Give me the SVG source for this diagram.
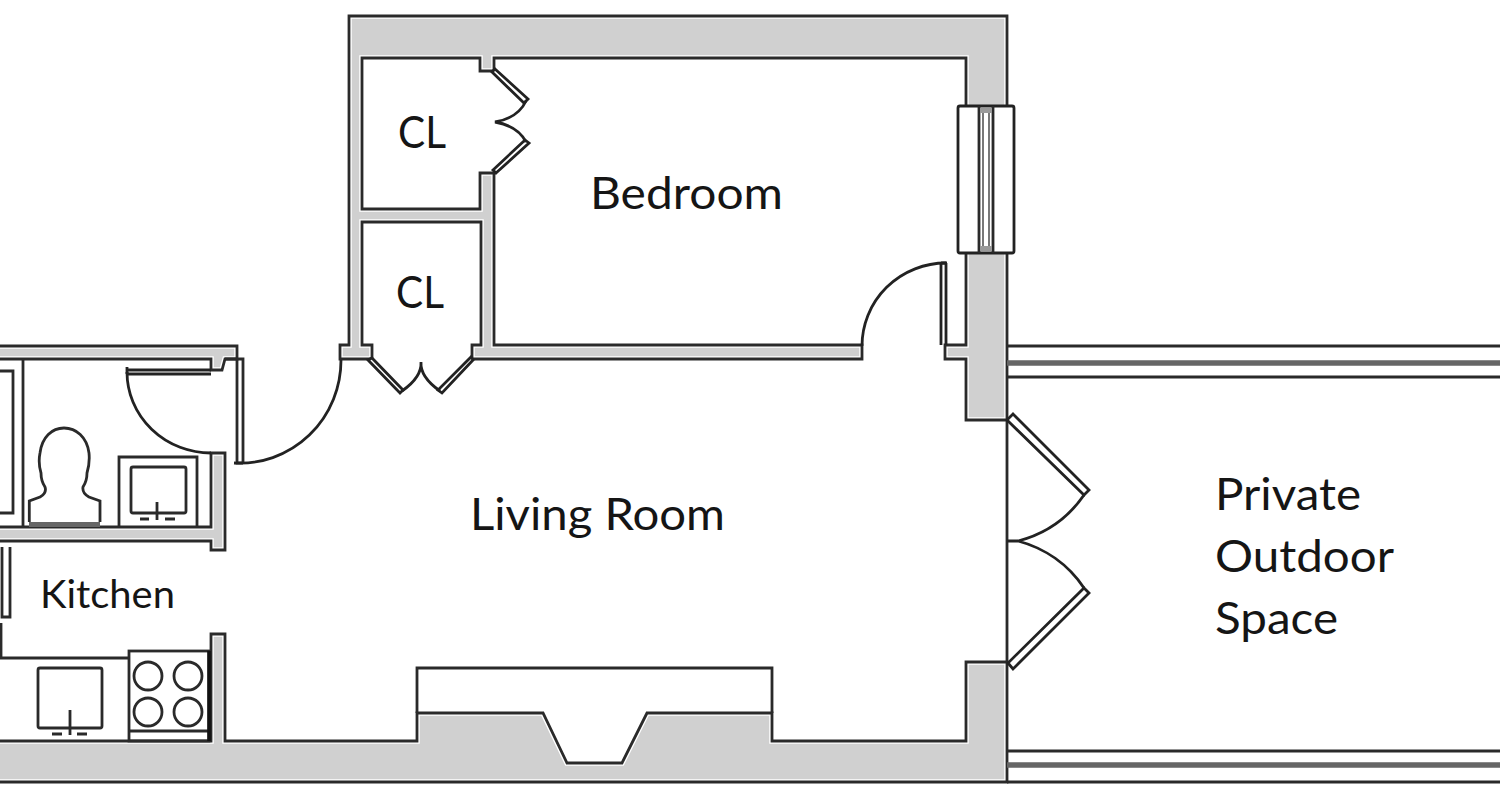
<svg xmlns="http://www.w3.org/2000/svg" width="1500" height="800" viewBox="0 0 1500 800">
<style>
.w{fill:#d0d0d0;stroke:#fff;stroke-width:5.5}
.l{fill:none;stroke:#2a2a2a;stroke-width:2.8}
.t{fill:none;stroke:#222;stroke-width:2.8}
.d{fill:#fff;stroke:#222;stroke-width:2.8}
.g{fill:none;stroke:#666;stroke-width:5.5}
text{font-family:"Lato","Carlito","Liberation Sans",sans-serif;fill:#151515;font-size:44px}
</style>
<defs>
<path id="p1" d="M340,359 V345 H349 V16 H1007 V420 H966 V359 H945 V345 H966 V58 H494 V71 H480 V58 H362 V209 H480 V173 H494 V345 H862 V359 H472 V345 H481 V222 H362 V345 H372 V359 Z"/>
<path id="p2" d="M-6,741 H211 V634 H225 V741 H417 V713 H543 L567,763 H622 L647,713 H772 V741 H966 V662 H1007 V782 H-6 Z"/>
<path id="p3" d="M-6,346 H237 V359 H225 L222,370 H211 V359 H-6 Z"/>
<path id="p4" d="M-6,527 H211 V453 H225 V550 H211 V541 H-6 Z"/>
</defs>
<rect width="1500" height="800" fill="#fff"/>
<g id="walls">
<use href="#p1" class="w"/><use href="#p2" class="w"/><use href="#p3" class="w"/><use href="#p4" class="w"/>
<use href="#p1" class="l"/><use href="#p2" class="l"/><use href="#p3" class="l"/><use href="#p4" class="l"/>
<path class="l" d="M1007,420 V662" stroke-width="2"/>
<path class="l" d="M417,713 V668 H772 V713"/>
<path class="l" d="M225,359 H243 V463 M237,359 V463 H243"/>
<path class="l" d="M23,359 V527"/>
<path class="l" d="M-6,371 H13 V513 H-6"/>
<path class="l" d="M2,547 V617 H10 V547"/>
<path class="l" d="M1,623 V658 H129"/>
</g>
<g id="outdoor">
<path class="l" d="M1007,346 H1500 M1007,377 H1500 M1007,751 H1500 M1007,782 H1500"/>
<path class="g" d="M1007,363 H1500 M1007,765 H1500"/>
</g>
<g id="window">
<rect class="d" x="958" y="106" width="56" height="147" rx="2"/>
<path class="l" d="M979,106 V253 M993,106 V253"/>
<path d="M983,112 V247 M989,112 V247" fill="none" stroke="#777" stroke-width="2"/>
<rect x="980" y="108" width="12" height="5" fill="#999"/>
<rect x="980" y="246" width="12" height="5" fill="#999"/>
</g>
<g id="doors">
<path class="t" d="M941,263 V345 M946,263 V345 M941,263 H947"/>
<path class="t" d="M862,346 A84,83 0 0 1 946,263"/>
<path class="t" d="M127,370 H211 M127,374 H211 M127,367 V374"/>
<path class="t" d="M127,372 A84,81 0 0 0 211,453"/>
<path class="t" d="M341,360 A101,103 0 0 1 234,463"/>
<polygon class="d" points="495,69 528,99 524,103 492,72"/>
<polygon class="d" points="496,173 529,143 525,140 493,170"/>
<path class="t" d="M526,101 Q518,118 495,122 Q518,126 526,142"/>
<polygon class="d" points="368,360 400,393 403,390 372,358"/>
<polygon class="d" points="473,360 442,393 438,390 471,357"/>
<path class="t" d="M402,391 Q422,377 421,362 Q420,377 440,391"/>
<polygon class="d" points="1007,420 1013,414 1089,490 1084,495"/>
<polygon class="d" points="1008,663 1013,669 1089,593 1084,588"/>
<path class="t" d="M1084,495 A115,115 0 0 1 1018,541 H1007 M1018,541 A115,115 0 0 1 1084,588"/>
</g>
<g id="fixtures">
<path class="l" d="M29.300,522 V501 L40,497 Q47,493 45,487 Q41,481 41,473 Q38,463 40,453 C42,437 52,428 64,428 C76,428 87,437 89,453 Q90,463 87,473 Q87,481 83,487 Q82,493 89,497 L100,501 V522"/>
<rect x="29" y="522" width="71" height="5" fill="#666"/>
<path class="l" d="M119,527 V457 H197 V527"/>
<rect class="l" x="131" y="467" width="55" height="46" rx="2"/>
<path class="l" d="M157,502 V520 M140,519 H149 M165,519 H175"/>
<rect class="l" x="129" y="651" width="80" height="90"/>
<path class="l" d="M129,731 H209"/>
<path d="M209,651 V741" stroke="#111" stroke-width="3.500" fill="none"/>
<circle class="l" cx="148" cy="676" r="14"/>
<circle class="l" cx="188" cy="676" r="14"/>
<circle class="l" cx="148" cy="712" r="14"/>
<circle class="l" cx="188" cy="712" r="14"/>
<rect class="l" x="38" y="668" width="64" height="60" rx="2"/>
<path class="l" d="M70,710 V735 M52,734 H62 M77,734 H87"/>
</g>
<g id="labels">
<text x="398" y="148" textLength="48" lengthAdjust="spacingAndGlyphs">CL</text>
<text x="396" y="308" textLength="48" lengthAdjust="spacingAndGlyphs">CL</text>
<text x="590" y="209" textLength="193" lengthAdjust="spacingAndGlyphs">Bedroom</text>
<text x="470" y="530" textLength="255" lengthAdjust="spacingAndGlyphs">Living Room</text>
<text x="40" y="608" style="font-size:38px" textLength="135" lengthAdjust="spacingAndGlyphs">Kitchen</text>
<text x="1215" y="510" textLength="146" lengthAdjust="spacingAndGlyphs">Private</text>
<text x="1215" y="572" textLength="179" lengthAdjust="spacingAndGlyphs">Outdoor</text>
<text x="1215" y="634" textLength="123" lengthAdjust="spacingAndGlyphs">Space</text>
</g>
</svg>
